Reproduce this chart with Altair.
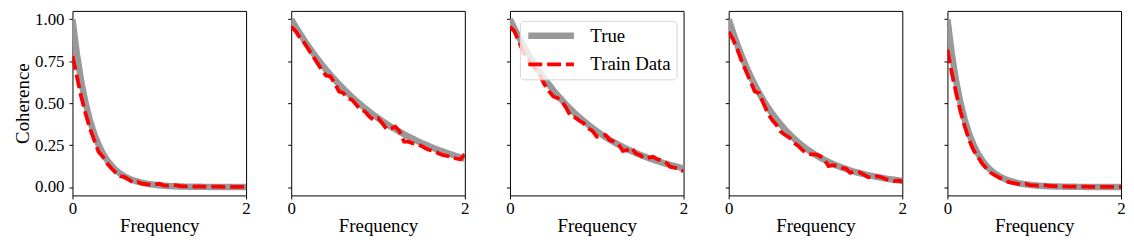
import altair as alt
import pandas as pd

# ---- data ----
freq = [0.00, 0.05, 0.10, 0.15, 0.20, 0.25, 0.30, 0.35, 0.40, 0.45,
        0.50, 0.55, 0.60, 0.65, 0.70, 0.75, 0.80, 0.85, 0.90, 0.95,
        1.00, 1.05, 1.10, 1.15, 1.20, 1.25, 1.30, 1.35, 1.40, 1.45,
        1.50, 1.55, 1.60, 1.65, 1.70, 1.75, 1.80, 1.85, 1.90, 1.95,
        2.00]

true_p1 = [1.0, 0.795, 0.631, 0.502, 0.399, 0.317, 0.252, 0.200, 0.159, 0.126,
           0.100, 0.080, 0.063, 0.050, 0.040, 0.032, 0.025, 0.020, 0.016, 0.013,
           0.010, 0.008, 0.006, 0.005, 0.004, 0.003, 0.0025, 0.002, 0.0016, 0.0013,
           0.001, 0.0008, 0.0006, 0.0005, 0.0004, 0.0003, 0.0003, 0.0002, 0.0002, 0.0001,
           0.0001]
train_p1 = [0.78, 0.66, 0.54, 0.44, 0.35, 0.28, 0.21, 0.18, 0.14, 0.11,
            0.085, 0.065, 0.06, 0.045, 0.025, 0.03, 0.02, 0.018, 0.012, 0.015,
            0.02, 0.01, 0.008, 0.012, 0.01, 0.006, 0.004, 0.005, 0.003, 0.004,
            0.003, 0.002, 0.003, 0.002, 0.002, 0.001, 0.002, 0.001, 0.001, 0.001,
            0.001]

true_p2 = [1.0, 0.956, 0.915, 0.875, 0.837, 0.800, 0.766, 0.732, 0.700, 0.670,
           0.641, 0.613, 0.586, 0.561, 0.536, 0.513, 0.491, 0.469, 0.449, 0.429,
           0.411, 0.393, 0.376, 0.359, 0.344, 0.329, 0.314, 0.301, 0.288, 0.275,
           0.263, 0.252, 0.241, 0.230, 0.220, 0.211, 0.202, 0.193, 0.184, 0.176,
           0.169]
train_p2 = [0.955, 0.93, 0.89, 0.86, 0.82, 0.78, 0.74, 0.70, 0.665, 0.66,
            0.62, 0.57, 0.56, 0.53, 0.52, 0.49, 0.46, 0.45, 0.42, 0.40,
            0.41, 0.38, 0.345, 0.35, 0.36, 0.33, 0.27, 0.27, 0.26, 0.255,
            0.245, 0.23, 0.22, 0.215, 0.20, 0.19, 0.185, 0.175, 0.17, 0.165,
            0.195]

true_p3 = [1.0, 0.946, 0.896, 0.848, 0.803, 0.760, 0.719, 0.680, 0.644, 0.610,
           0.577, 0.546, 0.517, 0.489, 0.463, 0.438, 0.415, 0.393, 0.372, 0.352,
           0.333, 0.315, 0.298, 0.282, 0.267, 0.253, 0.239, 0.226, 0.214, 0.203,
           0.192, 0.182, 0.172, 0.163, 0.154, 0.146, 0.138, 0.131, 0.124, 0.117,
           0.111]
train_p3 = [0.955, 0.93, 0.87, 0.81, 0.77, 0.73, 0.70, 0.66, 0.61, 0.57,
            0.54, 0.53, 0.51, 0.47, 0.42, 0.415, 0.395, 0.38, 0.35, 0.335,
            0.30, 0.305, 0.31, 0.28, 0.27, 0.255, 0.215, 0.22, 0.235, 0.20,
            0.19, 0.17, 0.175, 0.18, 0.165, 0.16, 0.145, 0.12, 0.115, 0.11,
            0.093]

true_p4 = [1.0, 0.921, 0.848, 0.781, 0.719, 0.662, 0.610, 0.561, 0.517, 0.476,
           0.438, 0.404, 0.372, 0.342, 0.315, 0.290, 0.267, 0.246, 0.226, 0.209,
           0.192, 0.177, 0.163, 0.150, 0.138, 0.127, 0.117, 0.108, 0.099, 0.091,
           0.084, 0.078, 0.071, 0.066, 0.061, 0.056, 0.051, 0.047, 0.044, 0.040,
           0.037]
train_p4 = [0.925, 0.88, 0.82, 0.75, 0.69, 0.63, 0.57, 0.56, 0.50, 0.44,
            0.40, 0.37, 0.33, 0.31, 0.295, 0.265, 0.245, 0.22, 0.20, 0.195,
            0.195, 0.185, 0.165, 0.125, 0.13, 0.125, 0.115, 0.11, 0.085, 0.095,
            0.09, 0.075, 0.06, 0.055, 0.065, 0.06, 0.05, 0.04, 0.035, 0.038,
            0.034]

true_p5 = [1.0, 0.795, 0.631, 0.502, 0.399, 0.317, 0.252, 0.200, 0.159, 0.126,
           0.100, 0.080, 0.063, 0.050, 0.040, 0.032, 0.025, 0.020, 0.016, 0.013,
           0.010, 0.008, 0.006, 0.005, 0.004, 0.003, 0.0025, 0.002, 0.0016, 0.0013,
           0.001, 0.0008, 0.0006, 0.0005, 0.0004, 0.0003, 0.0003, 0.0002, 0.0002, 0.0001,
           0.0001]
train_p5 = [0.82, 0.68, 0.56, 0.45, 0.36, 0.28, 0.22, 0.18, 0.14, 0.11,
            0.085, 0.07, 0.055, 0.045, 0.03, 0.025, 0.02, 0.015, 0.018, 0.012,
            0.01, 0.008, 0.012, 0.009, 0.006, 0.005, 0.004, 0.004, 0.003, 0.003,
            0.002, 0.002, 0.002, 0.001, 0.001, 0.001, 0.001, 0.001, 0.001, 0.001,
            0.001]

series_names = ["True", "Train Data"]
x_ticks = [0, 1, 2]
y_ticks = [0.0, 0.25, 0.5, 0.75, 1.0]
x_title = "Frequency"
y_title = "Coherence"

# ---- styling ----
FONT = "Liberation Serif"
colors = ["#999999", "#ff0000"]
dashes = [[1, 0], [14, 5]]
widths = [6.5, 3.8]
PAD = {"left": 5, "top": 0, "right": 0, "bottom": 0}


def panel(true_vals, train_vals, first, show_legend):
    df = pd.DataFrame({
        "f": freq + freq,
        "v": true_vals + train_vals,
        "series": [series_names[0]] * len(freq) + [series_names[1]] * len(freq),
    })
    if show_legend:
        leg = alt.Legend(title=None, orient="top-left", offset=10,
                         symbolType="stroke", symbolSize=2116, clipHeight=20,
                         labelFont=FONT, labelFontSize=19, labelColor="black",
                         fillColor="rgba(255,255,255,0.8)", strokeColor="#d6d6d6",
                         cornerRadius=4, padding=5, rowPadding=9, labelOffset=13)
    else:
        leg = None
    x = alt.X("f:Q", scale=alt.Scale(domain=[0, 2], nice=False),
              axis=alt.Axis(values=x_ticks, format="d", title=x_title))
    y = alt.Y("v:Q", scale=alt.Scale(domain=[-0.05, 1.05], nice=False, zero=False),
              axis=alt.Axis(values=y_ticks, format=".2f",
                            title=y_title if first else None,
                            labels=first))
    enc = dict(
        x=x, y=y,
        color=alt.Color("series:N", scale=alt.Scale(domain=series_names, range=colors), legend=leg),
        strokeDash=alt.StrokeDash("series:N", scale=alt.Scale(domain=series_names, range=dashes), legend=leg),
        strokeWidth=alt.StrokeWidth("series:N", scale=alt.Scale(domain=series_names, range=widths), legend=leg),
    )
    base = alt.Chart(df)
    l_true = base.mark_line(clip=True).encode(**enc).transform_filter(
        alt.datum.series == series_names[0])
    l_train = base.mark_line(clip=True).encode(**enc).transform_filter(
        alt.datum.series == series_names[1])
    return alt.layer(l_true, l_train).properties(width=175, height=186)


panels = [
    panel(true_p1, train_p1, True, False),
    panel(true_p2, train_p2, False, False),
    panel(true_p3, train_p3, False, True),
    panel(true_p4, train_p4, False, False),
    panel(true_p5, train_p5, False, False),
]

chart = alt.hconcat(*panels, spacing=35.5, padding=PAD).resolve_scale(
    color="independent", strokeDash="independent", strokeWidth="independent"
).resolve_legend(
    color="independent", strokeDash="independent", strokeWidth="independent"
).configure(
    padding=PAD
).configure_view(
    stroke="black", strokeWidth=1
).configure_axis(
    domain=False, grid=False, tickColor="black", tickSize=3.5, tickWidth=1,
    labelFont=FONT, labelFontSize=17, labelColor="black",
    titleFont=FONT, titleFontSize=19, titleColor="black", titleFontWeight="normal",
    labelFlush=False
).configure_axisX(titlePadding=0, labelPadding=2).configure_axisY(titlePadding=2, labelPadding=5)

chart.save("out.html", embed_options={"renderer": "svg", "actions": False})
